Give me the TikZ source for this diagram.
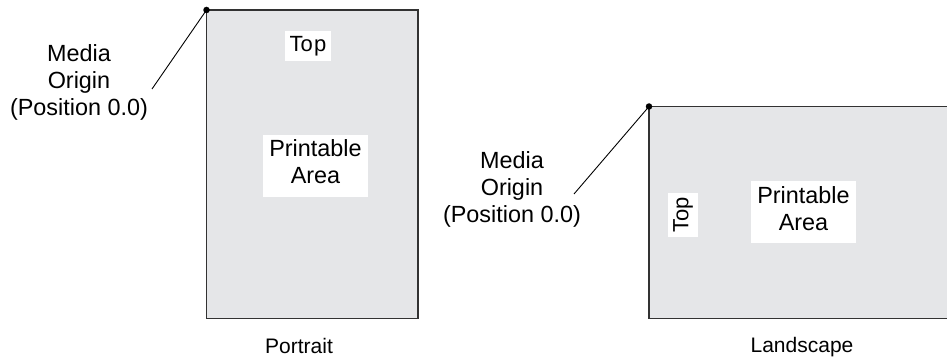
\documentclass[tikz,border=0pt]{standalone}
\usepackage{fontspec}
\setmainfont{Liberation Sans}
\definecolor{paper}{RGB}{229,230,232}
\definecolor{edge}{RGB}{50,50,50}
\begin{document}
\begin{tikzpicture}[x=1pt,y=-1pt,
  sheet/.style={draw=edge,line width=1.4pt,fill=paper},
  wbox/.style={fill=white,inner sep=0pt,draw=none},
  lbl/.style={align=center,inner sep=0pt,font=\fontsize{23.4}{27}\selectfont},
  toplbl/.style={wbox,font=\fontsize{22}{26}\selectfont},
  caption/.style={inner sep=0pt,anchor=base,font=\fontsize{21}{25}\selectfont},
  dotnode/.style={circle,fill=black,inner sep=0pt,minimum size=6.5pt},
  leader/.style={draw=black,line width=0.9pt}]
\useasboundingbox (0,0) rectangle (947,358);
% sheets
\draw[sheet] (206.5,10) rectangle (418,318.5);
\begin{scope}
\clip (0,0) rectangle (947,358);
\draw[sheet] (649,106.5) rectangle (960,318.5);
\end{scope}
% portrait
\node[toplbl,minimum width=46pt,minimum height=30pt] (top1) at (308,46) {To\kern1.5pt p};
\node[wbox,minimum width=105pt,minimum height=62pt] (pa1) at (315.5,166) {};
\node[lbl] (pat1) at ([yshift=4pt]pa1.center) {Printable\\Area};
\node[lbl,anchor=north] (mo1) at (79,44) {Media\\Origin\\(Position 0.0)};
\node[dotnode] (o1) at (206.5,10) {};
\coordinate (e1) at (152,89);
\draw[leader] (o1.center) -- (e1);
\node[caption] (cap1) at (299,353) {Portrait};
% landscape
\node[toplbl,rotate=90,minimum width=44pt,minimum height=30pt] (top2) at (683,215) {Top};
\node[wbox,minimum width=105pt,minimum height=62pt] (pa2) at (803.5,212) {};
\node[lbl] (pat2) at ([yshift=3pt]pa2.center) {Printable\\Area};
\node[lbl,anchor=north] (mo2) at (512,151) {Media\\Origin\\(Position 0.0)};
\node[dotnode] (o2) at (649,106.5) {};
\coordinate (e2) at (574,194);
\draw[leader] (o2.center) -- (e2);
\node[caption] (cap2) at (802,352) {Landscape};
\end{tikzpicture}
\end{document}
